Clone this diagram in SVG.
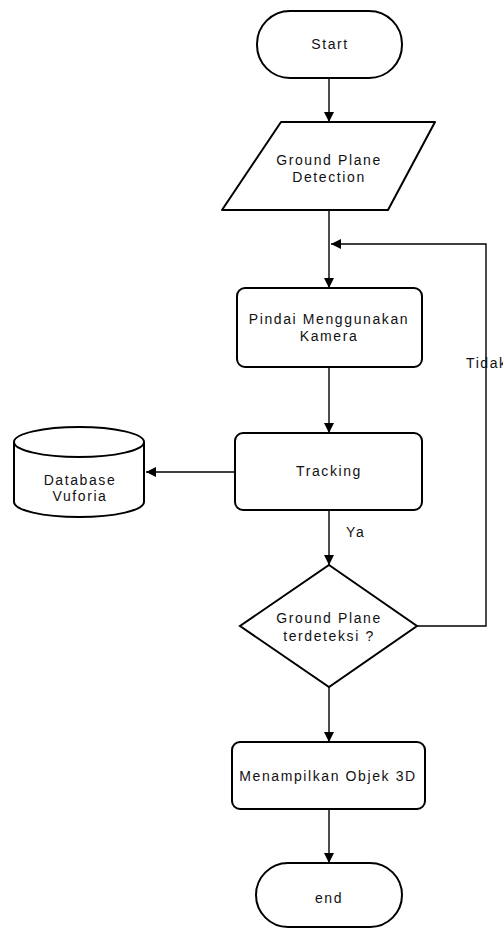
<svg xmlns="http://www.w3.org/2000/svg" width="503" height="929" viewBox="0 0 503 929">
<style>
.s{fill:#fff;stroke:#000;stroke-width:2}
.c{fill:none;stroke:#000;stroke-width:1.4}
text{font-family:"Liberation Sans",Arial,sans-serif;font-size:14px;letter-spacing:1.6px;fill:#111;text-anchor:middle}
</style>
<defs>
<marker id="a" markerUnits="userSpaceOnUse" markerWidth="11" markerHeight="11" refX="10" refY="5" orient="auto">
<path d="M0,0 L10,5 L0,10 Z" fill="#000"/>
</marker>
</defs>
<rect width="503" height="929" fill="#fff"/>
<g id="connectors">
<line class="c" x1="329" y1="78" x2="329" y2="122" marker-end="url(#a)"/>
<line class="c" x1="329" y1="210" x2="329" y2="288" marker-end="url(#a)"/>
<line class="c" x1="329" y1="367" x2="329" y2="433" marker-end="url(#a)"/>
<line class="c" x1="235" y1="472" x2="146" y2="472" marker-end="url(#a)"/>
<line class="c" x1="329" y1="510" x2="329" y2="565" marker-end="url(#a)"/>
<polyline class="c" points="417,626 486,626 486,244 331,244" marker-end="url(#a)"/>
<line class="c" x1="329" y1="687" x2="329" y2="742" marker-end="url(#a)"/>
<line class="c" x1="329" y1="809" x2="329" y2="863" marker-end="url(#a)"/>
<text x="346" y="537" style="text-anchor:start">Ya</text>
<text x="466" y="368" style="text-anchor:start">Tidak</text>
</g>
<g id="start">
<rect class="s" x="257" y="11" width="145" height="67" rx="33" ry="33"/>
<text x="330" y="49">Start</text>
</g>
<g id="detection">
<path class="s" d="M281,122 L435,122 L388,210 L222,210 Z" stroke-linejoin="round"/>
<text x="329" y="165">Ground Plane</text>
<text x="329" y="182">Detection</text>
</g>
<g id="pindai">
<rect class="s" x="237" y="288" width="185" height="79" rx="8"/>
<text x="329" y="324">Pindai Menggunakan</text>
<text x="329" y="341">Kamera</text>
</g>
<g id="tracking">
<rect class="s" x="235" y="433" width="187" height="77" rx="8"/>
<text x="329" y="476">Tracking</text>
</g>
<g id="database">
<path class="s" d="M14,442 L14,502 A65,15 0 0 0 144,502 L144,442 A65,15 0 0 0 14,442 Z"/>
<path class="s" d="M14,442 A65,15 0 0 0 144,442" fill="none"/>
<text x="80" y="485">Database</text>
<text x="80" y="501">Vuforia</text>
</g>
<g id="decision">
<path class="s" d="M329,565 L417,626 L329,687 L240,626 Z"/>
<text x="329" y="623">Ground Plane</text>
<text x="329" y="641">terdeteksi ?</text>
</g>
<g id="tampil">
<rect class="s" x="232" y="742" width="193" height="67" rx="8"/>
<text x="328" y="781">Menampilkan Objek 3D</text>
</g>
<g id="end">
<rect class="s" x="256" y="863" width="146" height="64" rx="32" ry="32"/>
<text x="329" y="903">end</text>
</g>
</svg>
